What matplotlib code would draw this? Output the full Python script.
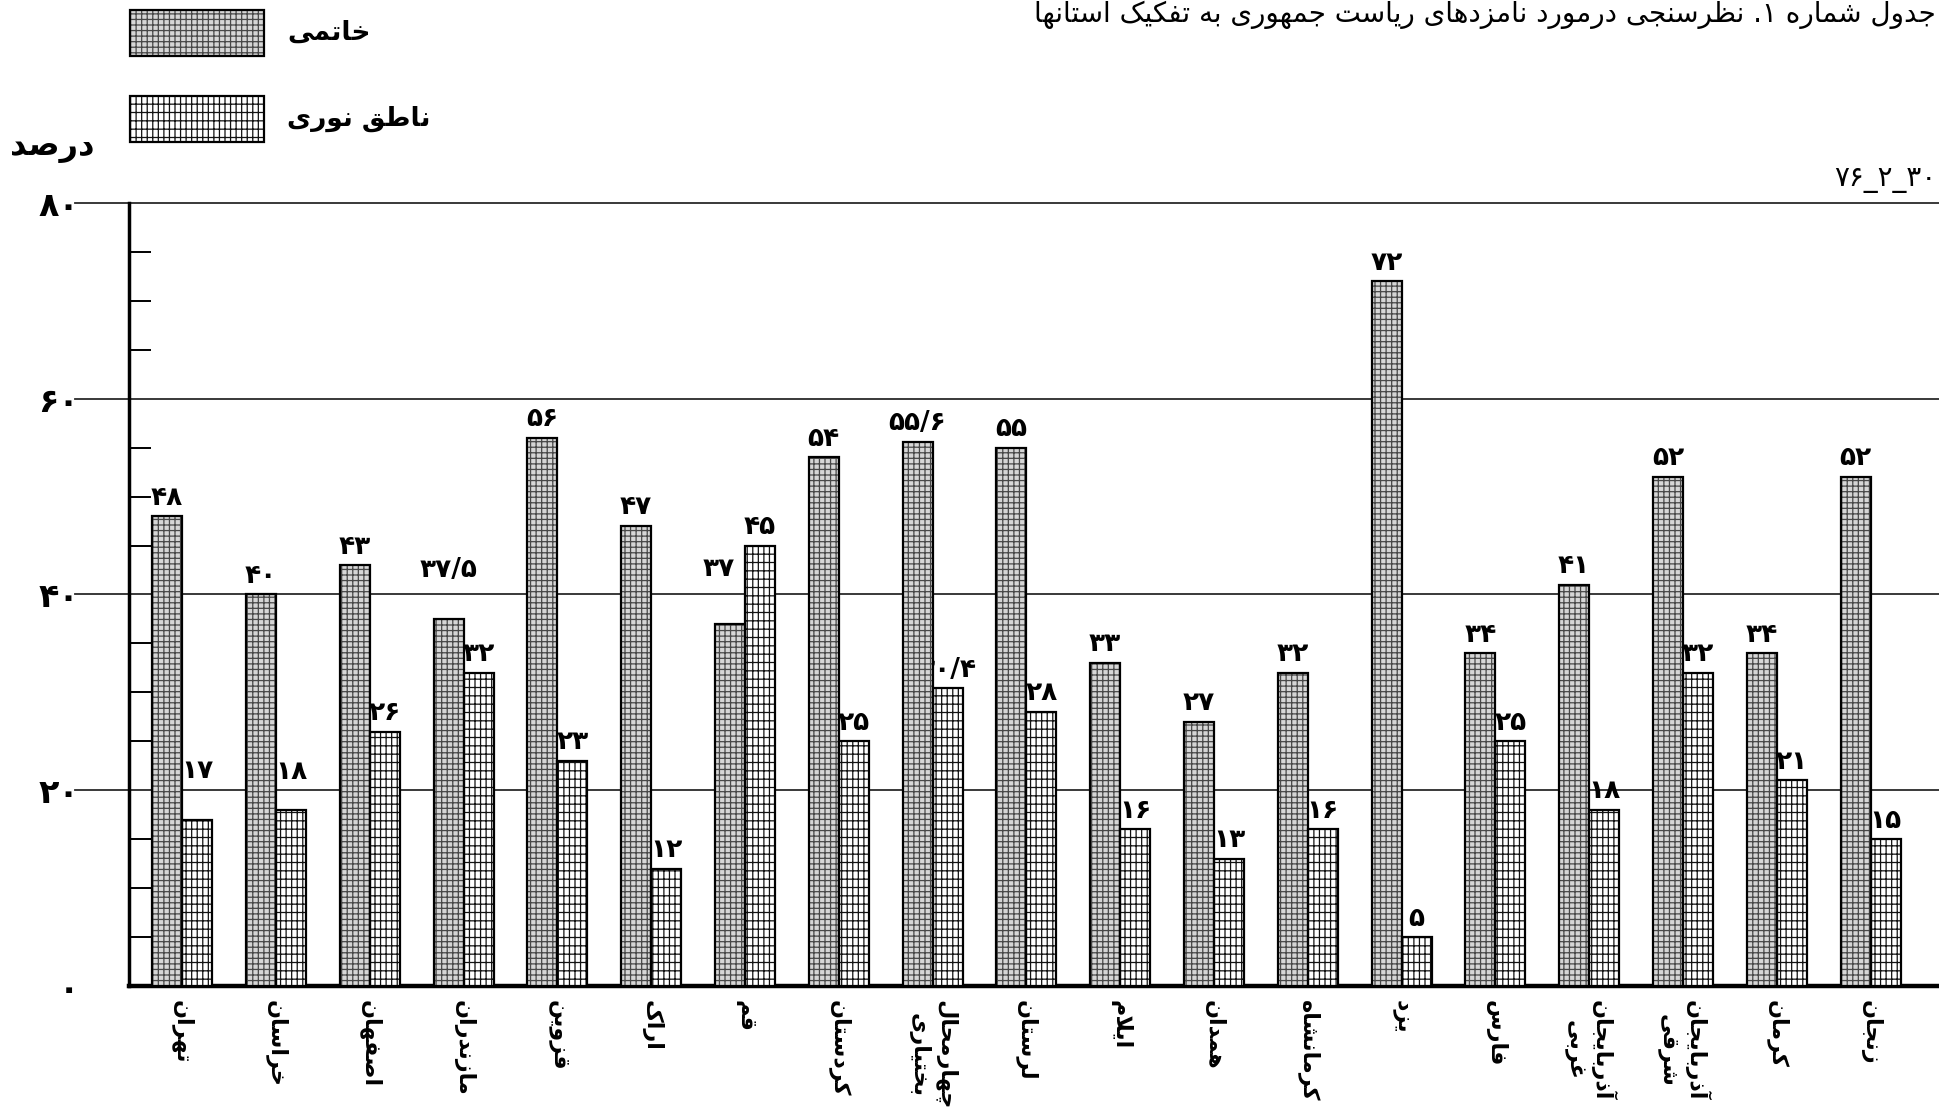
import matplotlib
matplotlib.use('Agg')
import matplotlib.pyplot as plt
from matplotlib.patches import Rectangle
from matplotlib.ticker import MultipleLocator
import numpy as np

plt.rcParams['font.family'] = ['DejaVu Sans']
plt.rcParams['hatch.linewidth'] = 0.9

# داده‌ها
provinces = ['تهران', 'خراسان', 'اصفهان', 'مازندران', 'قزوین', 'اراک', 'قم', 'کردستان',
             'چهارمحال\nبختیاری', 'لرستان', 'ایلام', 'همدان', 'کرمانشاه', 'یزد', 'فارس',
             'آذربایجان\nغربی', 'آذربایجان\nشرقی', 'کرمان', 'زنجان']
khatami = [48, 40, 43, 37.5, 56, 47, 37, 54, 55.6, 55, 33, 27, 32, 72, 34, 41, 52, 34, 52]
nategh = [17, 18, 26, 32, 23, 12, 45, 25, 30.4, 28, 16, 13, 16, 5, 25, 18, 32, 21, 15]
yticks = [0, 20, 40, 60, 80]
series_names = ['خاتمی', 'ناطق نوری']
title = 'جدول شماره ۱. نظرسنجی درمورد نامزدهای ریاست جمهوری به تفکیک استانها'
ylabel = 'درصد'
date_text = '۷۶_۲_۳۰'

# شکل‌دهی حروف فارسی (matplotlib خودش حروف را به هم نمی‌چسباند)
FORMS = {
    'ب': (0xFE8F, 0xFE90, 0xFE91, 0xFE92), 'پ': (0xFB56, 0xFB57, 0xFB58, 0xFB59),
    'ت': (0xFE95, 0xFE96, 0xFE97, 0xFE98), 'ث': (0xFE99, 0xFE9A, 0xFE9B, 0xFE9C),
    'ج': (0xFE9D, 0xFE9E, 0xFE9F, 0xFEA0), 'چ': (0xFB7A, 0xFB7B, 0xFB7C, 0xFB7D),
    'ح': (0xFEA1, 0xFEA2, 0xFEA3, 0xFEA4), 'خ': (0xFEA5, 0xFEA6, 0xFEA7, 0xFEA8),
    'س': (0xFEB1, 0xFEB2, 0xFEB3, 0xFEB4), 'ش': (0xFEB5, 0xFEB6, 0xFEB7, 0xFEB8),
    'ص': (0xFEB9, 0xFEBA, 0xFEBB, 0xFEBC), 'ض': (0xFEBD, 0xFEBE, 0xFEBF, 0xFEC0),
    'ط': (0xFEC1, 0xFEC2, 0xFEC3, 0xFEC4), 'ظ': (0xFEC5, 0xFEC6, 0xFEC7, 0xFEC8),
    'ع': (0xFEC9, 0xFECA, 0xFECB, 0xFECC), 'غ': (0xFECD, 0xFECE, 0xFECF, 0xFED0),
    'ف': (0xFED1, 0xFED2, 0xFED3, 0xFED4), 'ق': (0xFED5, 0xFED6, 0xFED7, 0xFED8),
    'ک': (0xFB8E, 0xFB8F, 0xFB90, 0xFB91), 'گ': (0xFB92, 0xFB93, 0xFB94, 0xFB95),
    'ل': (0xFEDD, 0xFEDE, 0xFEDF, 0xFEE0), 'م': (0xFEE1, 0xFEE2, 0xFEE3, 0xFEE4),
    'ن': (0xFEE5, 0xFEE6, 0xFEE7, 0xFEE8), 'ه': (0xFEE9, 0xFEEA, 0xFEEB, 0xFEEC),
    'ی': (0xFBFC, 0xFBFD, 0xFBFE, 0xFBFF),
    'ا': (0xFE8D, 0xFE8E), 'آ': (0xFE81, 0xFE82), 'د': (0xFEA9, 0xFEAA),
    'ذ': (0xFEAB, 0xFEAC), 'ر': (0xFEAD, 0xFEAE), 'ز': (0xFEAF, 0xFEB0),
    'ژ': (0xFB8A, 0xFB8B), 'و': (0xFEED, 0xFEEE),
}
LAM_ALEF = {'ا': (0xFEFB, 0xFEFC), 'آ': (0xFEF5, 0xFEF6)}
DIGITS = set('۰۱۲۳۴۵۶۷۸۹/')


def dual(c):
    return c in FORMS and len(FORMS[c]) == 4


def shape(s):
    s = s.replace('ك', 'ک').replace('ي', 'ی')
    out = []
    i = 0
    while i < len(s):
        c = s[i]
        if c not in FORMS:
            out.append(c)
            i += 1
            continue
        link_prev = i > 0 and dual(s[i - 1])
        if c == 'ل' and i + 1 < len(s) and s[i + 1] in LAM_ALEF:
            iso, fin = LAM_ALEF[s[i + 1]]
            out.append(chr(fin if link_prev else iso))
            i += 2
            continue
        link_next = dual(c) and i + 1 < len(s) and s[i + 1] in FORMS
        f = FORMS[c]
        k = 3 if (link_prev and link_next) else 1 if link_prev else 2 if link_next else 0
        out.append(chr(f[k]))
        i += 1
    return out


def fa(text):
    lines = []
    for line in text.split('\n'):
        g = shape(line)[::-1]
        res, run = [], []
        for ch in g:
            if ch in DIGITS:
                run.append(ch)
            else:
                res.extend(run[::-1])
                run = []
                res.append(ch)
        res.extend(run[::-1])
        lines.append(''.join(res))
    return '\n'.join(lines)


def fa_num(v):
    s = f'{v:g}'.replace('.', '/')
    return s.translate(str.maketrans('0123456789', '۰۱۲۳۴۵۶۷۸۹'))


fig = plt.figure(figsize=(19.4, 11.2), dpi=100)
ax = fig.add_axes([0.0665, 0.1196, 0.9335, 0.6992])

x = np.arange(len(provinces))
w = 0.32
k_fill = dict(facecolor='#d6d6d6', edgecolor='#484848', hatch='+++', linewidth=0)
n_fill = dict(facecolor='white', edgecolor='#111111', hatch='|++', linewidth=0)
outline = dict(fill=False, edgecolor='black', linewidth=1.6)

ax.bar(x - w / 2, khatami, w, zorder=3, **k_fill)
ax.bar(x - w / 2, khatami, w, zorder=4, **outline)
ax.bar(x + w / 2, nategh, w, zorder=3, **n_fill)
ax.bar(x + w / 2, nategh, w, zorder=4, **outline)

# برچسب مقادیر
nudge_k = {3: (0, 22), 6: (-8, 26)}
nudge_n = {0: (0, 22), 1: (0, 14)}
for i in range(len(provinces)):
    dx, dy = nudge_k.get(i, (0, 0))
    ax.annotate(fa_num(khatami[i]), (x[i] - w / 2, khatami[i]), xytext=(dx, 4 + dy),
                textcoords='offset points', ha='center', va='bottom', fontsize=19,
                fontweight='bold', zorder=2)
    dx, dy = nudge_n.get(i, (0, 0))
    ax.annotate(fa_num(nategh[i]), (x[i] + w / 2, nategh[i]), xytext=(dx, 4 + dy),
                textcoords='offset points', ha='center', va='bottom', fontsize=19,
                fontweight='bold', zorder=2)

# خطوط افقی
for y in yticks[1:]:
    ax.axhline(y, xmin=-0.03, xmax=1, color='#2a2a2a', lw=1.3, clip_on=False, zorder=1)

ax.set_xlim(-0.567, 18.74)
ax.set_ylim(0, 80)
ax.set_yticks(yticks)
ax.set_yticklabels([fa_num(v) for v in yticks], fontsize=24, fontweight='bold')
ax.yaxis.set_minor_locator(MultipleLocator(5))
ax.tick_params(axis='y', which='major', length=0, pad=36)
ax.tick_params(axis='y', which='minor', direction='in', length=16, width=1.4)

ax.set_xticks(x)
ax.set_xticklabels([fa(p) for p in provinces], rotation=-90, fontsize=16,
                   fontweight='bold', va='top', ha='center', linespacing=1.3)
ax.tick_params(axis='x', length=0, pad=10)

for s in ['top', 'right']:
    ax.spines[s].set_visible(False)
ax.spines['left'].set_linewidth(2.5)
ax.spines['bottom'].set_linewidth(3.2)

# راهنما
legend_pos = [(0.067, 0.950), (0.067, 0.873)]
for (lx, ly), name, st in zip(legend_pos, series_names, [k_fill, n_fill]):
    fig.add_artist(Rectangle((lx, ly), 0.069, 0.041, transform=fig.transFigure, **st))
    fig.add_artist(Rectangle((lx, ly), 0.069, 0.041, transform=fig.transFigure,
                             fill=False, edgecolor='black', linewidth=1.6))
    fig.text(lx + 0.081, ly + 0.0205, fa(name), fontsize=19, fontweight='bold',
             ha='left', va='center')

fig.text(0.005, 0.868, fa(ylabel), fontsize=23, fontweight='bold', ha='left', va='center')
fig.text(0.998, 0.840, date_text, fontsize=20, ha='right', va='center')
fig.text(0.998, 0.999, fa(title), fontsize=20, ha='right', va='top')

fig.savefig('out.png', dpi=100)
